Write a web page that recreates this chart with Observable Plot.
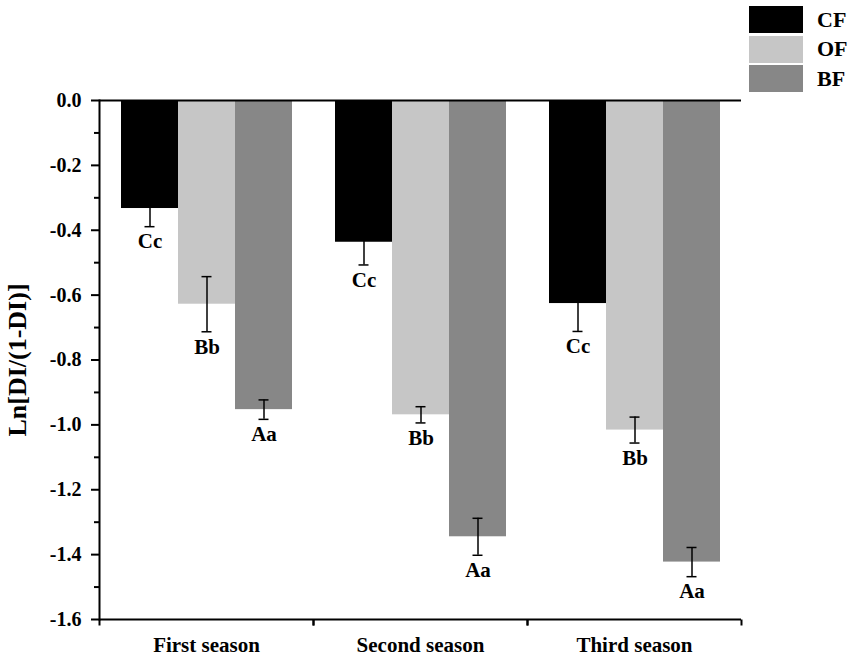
<!DOCTYPE html>
<html>
<head>
<meta charset="utf-8">
<script src="https://cdn.jsdelivr.net/npm/d3@7"></script>
<script src="https://cdn.jsdelivr.net/npm/@observablehq/plot@0.6"></script>
<style>
  body { margin: 0; background: #fff; }
  #wrap { position: relative; width: 851px; height: 658px; font-family: "Liberation Serif", serif; }
  #legend { position: absolute; left: 749px; top: 5px; }
  .li { display: flex; align-items: center; height: 29.5px; }
  .sw { width: 54px; height: 27px; }
  .lt { margin-left: 14px; font-size: 22px; font-weight: bold; color: #000; }
</style>
</head>
<body>
<div id="wrap"><div id="legend"></div></div>
<script>
const seasons = ["First season", "Second season", "Third season"];
const treatments = ["CF", "OF", "BF"];
const colors = ["#000000", "#c6c6c6", "#878787"];
const cfValues = [-0.333, -0.437, -0.626];
const ofValues = [-0.628, -0.969, -1.016];
const bfValues = [-0.953, -1.345, -1.423];
const cfErr = [0.056, 0.070, 0.086];
const ofErr = [0.085, 0.025, 0.040];
const bfErr = [0.030, 0.057, 0.045];
const letters = ["Cc", "Bb", "Aa"];
const yTicks = [0, -0.2, -0.4, -0.6, -0.8, -1.0, -1.2, -1.4, -1.6];
const yMinorTicks = [-0.1, -0.3, -0.5, -0.7, -0.9, -1.1, -1.3, -1.5];
const yLabel = "Ln[DI/(1-DI)]";

const series = [cfValues, ofValues, bfValues];
const errs = [cfErr, ofErr, bfErr];
const rows = seasons.flatMap((s, i) => treatments.map((t, j) => ({
  season: s, trt: t, value: series[j][i],
  lo: series[j][i] - errs[j][i], hi: series[j][i] + errs[j][i],
  letter: letters[j]
})));

const tickSym = { draw(ctx) { ctx.moveTo(0, 0); ctx.lineTo(0, 6); } };

const chart = Plot.plot({
  width: 851, height: 658,
  marginTop: 100, marginRight: 110, marginBottom: 39, marginLeft: 98,
  style: { fontFamily: "Liberation Serif", fontWeight: "bold", color: "black", background: "white" },
  fx: { domain: seasons, padding: 0, label: null, axis: null },
  x: { domain: treatments, paddingInner: 0, paddingOuter: 0.36, axis: null },
  y: { domain: [-1.6, 0], axis: null },
  color: { domain: treatments, range: colors },
  marks: [
    Plot.barY(rows, { fx: "season", x: "trt", y: "value", fill: "trt" }),
    Plot.ruleX(rows, { fx: "season", x: "trt", y1: "lo", y2: "hi", stroke: "black", strokeWidth: 1.5 }),
    Plot.tickY(rows, { fx: "season", x: "trt", y: "lo", insetLeft: 23.5, insetRight: 23.5, stroke: "black", strokeWidth: 1.5 }),
    Plot.tickY(rows, { fx: "season", x: "trt", y: "hi", insetLeft: 23.5, insetRight: 23.5, stroke: "black", strokeWidth: 1.5 }),
    Plot.text(rows, { fx: "season", x: "trt", y: "lo", text: "letter", dy: 15, fontSize: 21, fontWeight: "bold", fill: "black" }),
    Plot.ruleY([0], { stroke: "black", strokeWidth: 2 }),
    Plot.ruleY([-1.6], { stroke: "black", strokeWidth: 2 }),
    Plot.frame({ anchor: "left", fx: [seasons[0]], stroke: "black", strokeWidth: 2 }),
    Plot.axisY({ ticks: yTicks, tickSize: 8, tickPadding: 10, tickFormat: d => d.toFixed(1), fontSize: 20, strokeWidth: 2, label: null }),
    Plot.axisY({ ticks: yMinorTicks, tickSize: 5, tickFormat: () => "", strokeWidth: 2, label: null }),
    Plot.axisY({ ticks: yTicks, tickSize: 0, tickFormat: () => "", label: yLabel, labelAnchor: "center", labelOffset: 92, labelArrow: "none", fontSize: 26 }),
    Plot.axisFx({ anchor: "bottom", tickSize: 0, tickPadding: 18, fontSize: 21, label: null }),
    Plot.dot([0], { frameAnchor: "bottom-left", symbol: tickSym, stroke: "black", strokeWidth: 2, fill: "none" }),
    Plot.dot([0], { frameAnchor: "bottom-right", symbol: tickSym, stroke: "black", strokeWidth: 2, fill: "none" })
  ]
});
document.getElementById("wrap").prepend(chart);

const legend = document.getElementById("legend");
treatments.forEach((t, j) => {
  const item = document.createElement("div");
  item.className = "li";
  item.innerHTML = `<div class="sw" style="background:${colors[j]}"></div><span class="lt">${t}</span>`;
  legend.appendChild(item);
});
</script>
</body>
</html>
